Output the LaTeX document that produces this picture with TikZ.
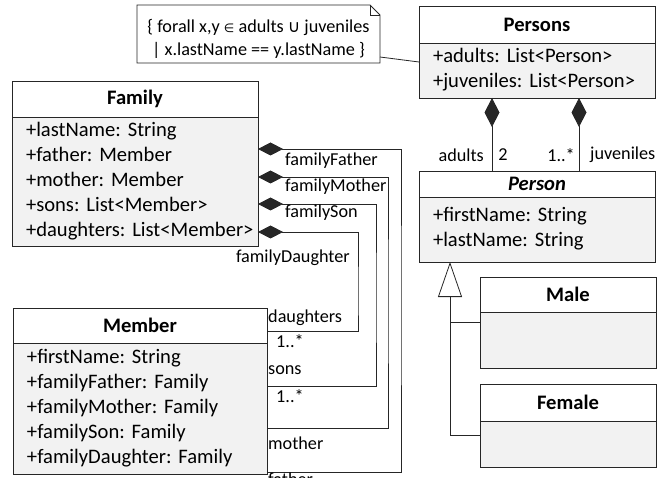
\documentclass[tikz,border=0pt]{standalone}
\usepackage{fontspec}
\setmainfont{Carlito}
\newfontfamily\symf{DejaVu Sans}
\usetikzlibrary{arrows.meta}
\definecolor{bodyfill}{HTML}{F2F2F2}
\definecolor{linec}{HTML}{262626}
\newcommand\umlfs{\fontsize{20.6}{25}\selectfont\frenchspacing}
\newcommand\lblfs{\fontsize{18.2}{23}\selectfont\frenchspacing}
\newcommand\attrs[1]{\begin{tabular}{@{}l@{}}#1\end{tabular}}
\tikzset{
  box/.style={draw=linec, line width=0.8pt, anchor=north west, inner sep=0pt, outer sep=0pt},
  hdr/.style={box, fill=white, font=\bfseries\umlfs},
  bdy/.style={box, fill=bodyfill, font=\umlfs, align=left, inner xsep=14pt, inner ysep=0pt},
  lbl/.style={font=\lblfs, inner sep=0pt},
  conn/.style={draw=linec, line width=0.8pt},
  comp/.style={conn, {Diamond[length=25pt,width=13pt]}-},
  compv/.style={conn, {Diamond[length=29pt,width=15pt]}-},
  gen/.style={conn, -{Triangle[open,length=35pt,width=24pt]}},
}
\begin{document}
\begin{tikzpicture}[x=1pt,y=-1pt]
\useasboundingbox (0,0) rectangle (669,478);

% Note
\coordinate (noteNW) at (137,5);
\coordinate (noteSE) at (380,63);
\draw[conn, fill=white] (noteNW) -- (370,5) -- (380,15) -- (noteSE) -- (137,63) -- cycle;
\draw[conn] (370,5) -- (370,15) -- (380,15);
\node[inner sep=0pt, font=\lblfs, align=center] (note) at (258.5,39)
  {\{ forall x,y {\symf\fontsize{12}{12}\selectfont ∈} adults {\symf\fontsize{17}{17}\selectfont ∪} juveniles\\[0pt] | x.lastName == y.lastName \}};

% Persons
\node[hdr, minimum width=236pt, minimum height=37pt] (psH) at (419,6) {Persons};
\node[bdy, minimum width=236pt, minimum height=55pt, text width=208pt] (psB) at (419,43)
  {\attrs{+adults: List<Person>\\+juveniles: List<Person>}};

% Person
\node[hdr, minimum width=236pt, minimum height=26pt, font=\bfseries\itshape\umlfs] (pH) at (419,171) {Person};
\node[bdy, minimum width=236pt, minimum height=65pt, text width=208pt] (pB) at (419,197)
  {\attrs{+firstName: String\\+lastName: String}};

% Male
\node[hdr, minimum width=176pt, minimum height=35pt] (mH) at (480,277) {Male};
\node[bdy, minimum width=176pt, minimum height=56pt, text width=148pt] (mB) at (480,312) {};

% Female
\node[hdr, minimum width=176pt, minimum height=37pt] (fH) at (480,384) {Female};
\node[bdy, minimum width=176pt, minimum height=46pt, text width=148pt] (fB) at (480,421) {};

% Family
\node[hdr, minimum width=246pt, minimum height=36pt] (famH) at (12,81) {Family};
\node[bdy, minimum width=246pt, minimum height=129pt, text width=218pt] (famB) at (12,117)
  {\attrs{+lastName: String\\+father: Member\\+mother: Member\\+sons: List<Member>\\+daughters: List<Member>}};

% Member
\node[bdy, minimum width=254pt, minimum height=131pt, text width=226pt] (memB) at (13,343)
  {\attrs{+firstName: String\\+familyFather: Family\\+familyMother: Family\\+familySon: Family\\+familyDaughter: Family}};
\node[hdr, minimum width=254pt, minimum height=35pt] (memH) at (13,308) {Member};

% note link
\draw[conn] (noteSE) ++(0,-6) -- ([yshift=-19pt]psB.north west);

% Persons compositions
\draw[compv] ([xshift=73pt]psB.south west) -- ([xshift=73pt]pH.north west);
\draw[compv] ([xshift=160pt]psB.south west) -- ([xshift=160pt]pH.north west);
\node[lbl, anchor=east] (lAd) at (484,155) {adults};
\node[lbl] (l2) at (503,155) {2};
\node[lbl, anchor=east] (lm1) at (575,155) {1..*};
\node[lbl, anchor=west] (lJu) at (590,155) {juveniles};

% Generalization
\coordinate (gj) at (450,322);
\draw[gen] ([yshift=-14pt]fB.north west) -| ([xshift=31pt]pB.south west);
\draw[conn] ([yshift=-10pt]mB.north west) -- (gj);

% Family - Member compositions
\draw[comp] ([yshift=-32pt]famB.north east) -| (401,300) |- ([yshift=-129pt]memB.north east);
\draw[comp] ([yshift=-60pt]famB.north east) -| (388,300) |- ([yshift=-85pt]memB.north east);
\draw[comp] ([yshift=-87pt]famB.north east) -| (376,300) |- ([yshift=-43pt]memB.north east);
\draw[comp] ([yshift=-115pt]famB.north east) -| (358,300) |- ([yshift=-23pt]memH.north east);

\node[lbl, anchor=west] (lff) at (285,161) {familyFather};
\node[lbl, anchor=west] (lfm) at (285,187) {familyMother};
\node[lbl, anchor=west] (lfs) at (285,213) {familySon};
\node[lbl, anchor=east] (lfd) at (350,258) {familyDaughter};
\node[lbl, anchor=west] (ld) at (268,318) {daughters};
\node[lbl, anchor=west] (ld1) at (276,341) {1..*};
\node[lbl, anchor=west] (ls) at (268,370) {sons};
\node[lbl, anchor=west] (ls1) at (276,396) {1..*};
\node[lbl, anchor=west] (lmo) at (268,443) {mother};
\node[lbl, anchor=west] (lfa) at (268,479) {father};
\end{tikzpicture}
\end{document}
